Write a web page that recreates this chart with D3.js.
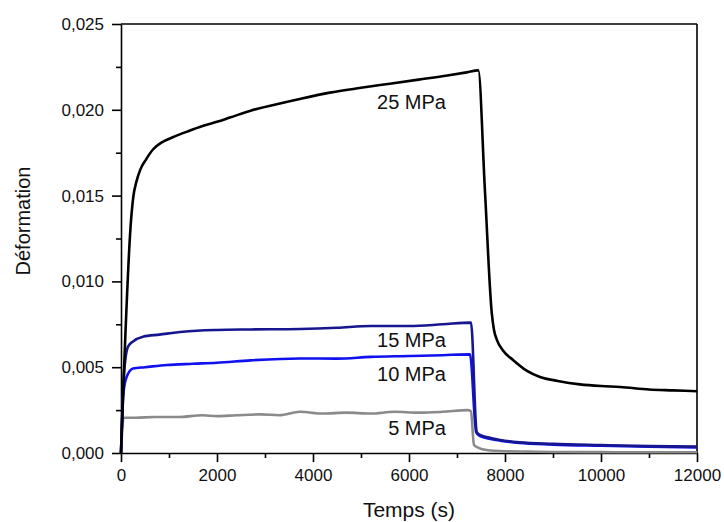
<!DOCTYPE html>
<html><head><meta charset="utf-8">
<script src="https://cdn.jsdelivr.net/npm/d3@7"></script>
<style>
html,body{margin:0;padding:0;background:#fff;}
svg{display:block;font-family:"Liberation Sans",Arial,sans-serif;}
</style></head>
<body><svg id="chart" width="724" height="522"></svg>
<script>
// ---- data ----
const xTicks = [0, 2000, 4000, 6000, 8000, 10000, 12000];
const yTicks = [0, 0.005, 0.010, 0.015, 0.020, 0.025];
const seriesNames = ["25 MPa", "15 MPa", "10 MPa", "5 MPa"];
const seriesColors = ["#000000", "#16168f", "#1010f0", "#8a8a8a"];

const t25 = [0, 210, 260, 320, 400, 520, 670, 850, 1080, 1400, 1700, 2000, 2270, 2700, 3200, 3700, 4350, 5000, 5600, 6200, 6800, 7200, 7444, 7580, 7723, 7771, 7833, 7950, 8167, 8450, 8729, 9100, 9560, 10000, 10400, 11000, 11500, 12000];
const v25 = [0, 0.0136, 0.0150, 0.0158, 0.0165, 0.0171, 0.0177, 0.0181, 0.0184, 0.01875, 0.01905, 0.0193, 0.01955, 0.01995, 0.0203, 0.02062, 0.0210, 0.02128, 0.02152, 0.02176, 0.0220, 0.02218, 0.0223, 0.0154, 0.0082, 0.00717, 0.00658, 0.0060, 0.00542, 0.0048, 0.00443, 0.0042, 0.0040, 0.0039, 0.00385, 0.0037, 0.00365, 0.0036];

const t15 = [0, 60, 146, 250, 458, 800, 1292, 2000, 2700, 3729, 4500, 5200, 6000, 6700, 7292, 7410, 7480, 7700, 7900, 8300, 9000, 10000, 11000, 12000];
const v15 = [0, 0.0045, 0.0062, 0.0065, 0.00678, 0.0069, 0.00707, 0.00717, 0.0072, 0.00723, 0.0073, 0.0074, 0.0074, 0.0075, 0.0076, 0.00124, 0.00105, 0.00088, 0.00076, 0.00062, 0.00053, 0.00046, 0.0004, 0.00037];

const t10 = [0, 50, 118, 250, 500, 958, 1500, 2000, 2700, 3729, 4500, 5200, 6000, 6700, 7271, 7400, 7480, 7700, 7900, 8300, 9000, 10000, 11000, 12000];
const v10 = [0, 0.0035, 0.00444, 0.00493, 0.0050, 0.00513, 0.0052, 0.00526, 0.0054, 0.00551, 0.0055, 0.0056, 0.00565, 0.0057, 0.00575, 0.0012, 0.00098, 0.00082, 0.00072, 0.00058, 0.00049, 0.00042, 0.00036, 0.00032];

const t5 = [0, 30, 49, 300, 700, 1200, 1700, 2000, 2400, 2900, 3300, 3729, 4200, 4700, 5200, 5700, 6200, 6700, 7236, 7290, 7354, 7450, 7618, 8000, 8500, 9000, 10000, 11000, 12000];
const v5 = [0, 0.0015, 0.00205, 0.00205, 0.0021, 0.0021, 0.0022, 0.00215, 0.0022, 0.00225, 0.0022, 0.0024, 0.0023, 0.00235, 0.0023, 0.0024, 0.00235, 0.0024, 0.0025, 0.00242, 0.00047, 0.0003, 0.00017, 0.0001, 0.00008, 0.00006, 0.00005, 0.00004, 0.00004];
// ---------------------------------------

const svg = d3.select("#chart");
const M = {left: 121, top: 24, right: 27, bottom: 69};
const W = 724 - M.left - M.right, H = 522 - M.top - M.bottom;
const x = d3.scaleLinear().domain([0, 12000]).range([0, W]);
const y = d3.scaleLinear().domain([0, 0.025]).range([H, 0]);
const g = svg.append("g").attr("transform", `translate(${M.left},${M.top})`);

const loc = d3.formatLocale({decimal: ",", thousands: "", grouping: [3], currency: ["", ""]});
const yfmt = loc.format(".3f");

const axisStroke = 1.6;
// minor ticks
g.append("g").attr("transform", `translate(0,${H})`)
  .call(d3.axisBottom(x).tickValues(d3.range(1000, 12000, 2000)).tickSize(5).tickFormat(""))
  .call(a => a.select(".domain").remove());
g.append("g")
  .call(d3.axisLeft(y).tickValues(d3.range(0.0025, 0.025, 0.005)).tickSize(5).tickFormat(""))
  .call(a => a.select(".domain").remove());
// major
g.append("g").attr("transform", `translate(0,${H})`)
  .call(d3.axisBottom(x).tickValues(xTicks).tickSize(9).tickSizeOuter(0).tickPadding(7).tickFormat(d3.format("d")));
g.append("g")
  .call(d3.axisLeft(y).tickValues(yTicks).tickSize(9).tickSizeOuter(0).tickPadding(8).tickFormat(yfmt));
g.selectAll(".tick line, .domain").attr("stroke", "#000").attr("stroke-width", axisStroke);
g.selectAll(".tick text").attr("font-size", 17).attr("fill", "#111").style("font-family", "'Liberation Sans',Arial,sans-serif");

// frame top/right
g.append("line").attr("x1", 0).attr("x2", W).attr("y1", 0).attr("y2", 0).attr("stroke", "#000").attr("stroke-width", axisStroke);
g.append("line").attr("x1", W).attr("x2", W).attr("y1", 0).attr("y2", H).attr("stroke", "#000").attr("stroke-width", axisStroke);

const series = [[t25, v25], [t15, v15], [t10, v10], [t5, v5]];
const line = d3.line().x(d => x(d[0])).y(d => y(d[1])).curve(d3.curveMonotoneX);
// draw order: gray, blue, navy, black
[3, 2, 1, 0].forEach(i => {
  const [ts, vs] = series[i];
  g.append("path").datum(ts.map((t, k) => [t, vs[k]]))
    .attr("d", line).attr("fill", "none")
    .attr("stroke", seriesColors[i]).attr("stroke-width", 2.6)
    .attr("stroke-linejoin", "round");
});

// labels
const labelY = [109, 347, 381, 435];
seriesNames.forEach((n, i) => {
  g.append("text").attr("x", 446 - M.left).attr("y", labelY[i] - M.top)
    .attr("text-anchor", "end").attr("font-size", 20).attr("fill", "#111")
    .text(n);
});

// axis titles
svg.append("text").attr("x", 409).attr("y", 517).attr("text-anchor", "middle")
  .attr("font-size", 21).attr("fill", "#111").text("Temps (s)");
svg.append("text").attr("transform", "translate(30,221) rotate(-90)").attr("text-anchor", "middle")
  .attr("font-size", 20).attr("fill", "#111").text("Déformation");
</script></body></html>
